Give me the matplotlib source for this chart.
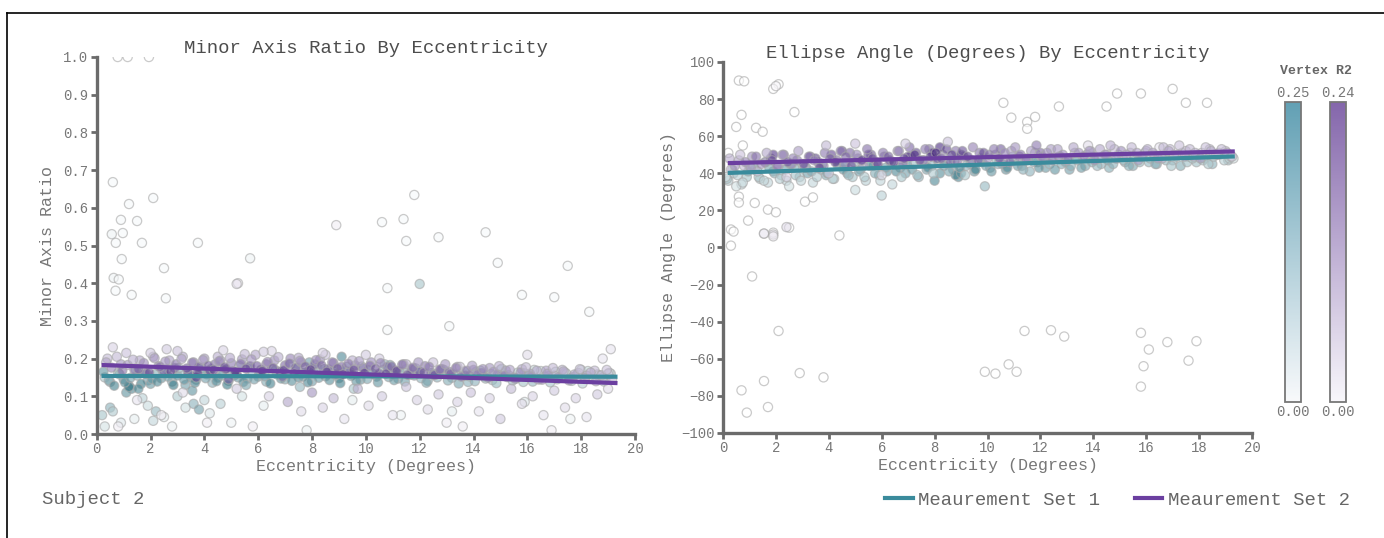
import numpy as np
import matplotlib
matplotlib.use("Agg")
import matplotlib.pyplot as plt
from matplotlib.colors import LinearSegmentedColormap, Normalize
from matplotlib.cm import ScalarMappable
from matplotlib.lines import Line2D

plt.rcParams['font.family'] = ['Liberation Mono', 'DejaVu Sans Mono']

# ---------------- data ----------------
# Left panel: Minor axis ratio, measurement set 1 (teal)
ratio1_x = [0.3, 0.5, 0.8, 1.0, 1.2, 1.3, 1.5, 1.7, 1.9, 2.0,
            2.2, 2.4, 2.6, 2.8, 3.0, 3.1, 3.3, 3.5, 3.7, 3.9,
            4.1, 4.3, 4.5, 4.7, 4.9, 5.1, 5.3, 5.6, 5.8, 6.0,
            6.3, 6.5, 6.7, 7.0, 7.2, 7.5, 7.7, 8.0, 8.2, 8.5,
            8.8, 9.0, 9.3, 9.5, 9.8, 10.1, 10.4, 10.7, 11.0, 11.2,
            11.5, 11.8, 12.0, 12.3, 12.6, 12.9, 13.2, 13.5, 13.8, 14.1,
            14.4, 14.7, 15.0, 15.3, 15.6, 15.9, 16.2, 16.5, 16.8, 17.1,
            17.4, 17.7, 18.0, 18.3, 18.6, 18.9, 19.1, 7.9, 9.1, 10.9,
            0.2, 0.3, 0.5, 0.6, 0.9, 1.1, 1.2, 1.4, 1.7, 1.9,
            2.1, 2.2, 2.5, 2.8, 3.0, 3.3, 3.6, 3.8, 4.0, 4.2,
            4.6, 5.0, 5.4, 6.2, 7.8, 9.5, 11.3, 13.2, 15.9, 17.6,
            0.6, 2.1, 1.2, 0.9, 1.5, 0.56, 0.97, 0.71, 1.68, 3.76,
            0.93, 5.7, 2.5, 0.63, 0.82, 0.7, 1.3, 2.57, 11.8, 10.6,
            11.4, 11.5, 12.7, 14.45, 14.9, 17.5, 10.8, 12.0, 15.8, 17.0,
            18.3, 13.1, 10.8, 0.78, 1.15, 1.94]
ratio1_y = [0.150, 0.138, 0.162, 0.145, 0.128, 0.120, 0.155, 0.170, 0.142, 0.133,
            0.160, 0.148, 0.172, 0.139, 0.155, 0.165, 0.130, 0.150, 0.144, 0.175,
            0.158, 0.136, 0.149, 0.168, 0.141, 0.155, 0.180, 0.147, 0.163, 0.152,
            0.139, 0.171, 0.158, 0.145, 0.185, 0.150, 0.162, 0.140, 0.175, 0.153,
            0.166, 0.148, 0.178, 0.157, 0.144, 0.169, 0.152, 0.185, 0.160, 0.147,
            0.172, 0.155, 0.163, 0.141, 0.158, 0.170, 0.149, 0.160, 0.138, 0.165,
            0.152, 0.143, 0.170, 0.156, 0.148, 0.161, 0.139, 0.167, 0.154, 0.145,
            0.163, 0.151, 0.170, 0.147, 0.158, 0.142, 0.160, 0.190, 0.205, 0.183,
            0.050, 0.020, 0.070, 0.060, 0.030, 0.110, 0.125, 0.040, 0.095, 0.075,
            0.035, 0.060, 0.045, 0.020, 0.100, 0.070, 0.080, 0.065, 0.090, 0.055,
            0.080, 0.030, 0.100, 0.075, 0.010, 0.090, 0.050, 0.060, 0.085, 0.040,
            0.668, 0.626, 0.610, 0.568, 0.565, 0.530, 0.533, 0.507, 0.507, 0.507,
            0.464, 0.466, 0.440, 0.414, 0.410, 0.380, 0.369, 0.360, 0.634, 0.562,
            0.570, 0.512, 0.522, 0.535, 0.454, 0.446, 0.387, 0.398, 0.369, 0.363,
            0.324, 0.286, 0.276, 1.000, 1.000, 1.000]
ratio1_r2 = [0.10, 0.15, 0.12, 0.18, 0.22, 0.20, 0.14, 0.09, 0.16, 0.17,
             0.13, 0.18, 0.08, 0.15, 0.19, 0.12, 0.16, 0.21, 0.14, 0.10,
             0.17, 0.13, 0.20, 0.11, 0.15, 0.18, 0.07, 0.16, 0.12, 0.19,
             0.14, 0.10, 0.17, 0.15, 0.08, 0.20, 0.13, 0.16, 0.11, 0.18,
             0.12, 0.19, 0.09, 0.15, 0.17, 0.13, 0.18, 0.10, 0.14, 0.16,
             0.11, 0.17, 0.13, 0.15, 0.12, 0.09, 0.14, 0.11, 0.13, 0.08,
             0.12, 0.10, 0.07, 0.11, 0.09, 0.10, 0.12, 0.06, 0.09, 0.08,
             0.07, 0.10, 0.06, 0.09, 0.07, 0.08, 0.06, 0.16, 0.20, 0.15,
             0.10, 0.05, 0.13, 0.09, 0.04, 0.18, 0.22, 0.03, 0.08, 0.06,
             0.07, 0.12, 0.03, 0.02, 0.09, 0.05, 0.13, 0.16, 0.07, 0.04,
             0.08, 0.02, 0.05, 0.03, 0.02, 0.03, 0.02, 0.03, 0.04, 0.02,
             0.01, 0.01, 0.01, 0.01, 0.01, 0.02, 0.01, 0.01, 0.01, 0.01,
             0.01, 0.02, 0.01, 0.02, 0.01, 0.01, 0.01, 0.01, 0.01, 0.01,
             0.01, 0.01, 0.01, 0.01, 0.01, 0.01, 0.01, 0.10, 0.01, 0.01,
             0.01, 0.01, 0.01, 0.00, 0.00, 0.00]
# additional dense-band points, set 1
ratio1_core_x = [0.25, 0.45, 0.65, 0.85, 1.05, 1.25, 1.45, 1.65, 1.85, 2.05,
                 2.25, 2.45, 2.65, 2.85, 3.05, 3.25, 3.45, 3.65, 3.85, 4.05,
                 4.25, 4.45, 4.65, 4.85, 5.05, 5.25, 5.45, 5.65, 5.85, 6.05,
                 6.25, 6.45, 6.65, 6.85, 7.05, 7.25, 7.45, 7.65, 7.85, 8.05,
                 8.25, 8.45, 8.65, 8.85, 9.05, 9.25, 9.45, 9.65, 9.85, 10.05,
                 10.25, 10.45, 10.65, 10.85, 11.05, 11.25, 11.45, 11.65, 11.85, 12.05,
                 12.25, 12.45, 12.65, 12.85, 13.05, 13.25, 13.45, 13.65, 13.85, 14.05,
                 14.25, 14.45, 14.65, 14.85, 15.05, 15.25, 15.45, 15.65, 15.85, 16.05,
                 16.25, 16.45, 16.65, 16.85, 17.05, 17.25, 17.45, 17.65, 17.85, 18.05,
                 18.25, 18.45, 18.65, 18.85, 19.05, 1.55, 3.55, 5.55, 7.55, 9.55]
ratio1_core_y = [0.165, 0.142, 0.128, 0.158, 0.137, 0.149, 0.171, 0.133, 0.160, 0.146,
                 0.139, 0.168, 0.152, 0.130, 0.175, 0.144, 0.157, 0.136, 0.163, 0.148,
                 0.172, 0.140, 0.155, 0.131, 0.166, 0.150, 0.138, 0.178, 0.145, 0.161,
                 0.153, 0.134, 0.169, 0.147, 0.159, 0.141, 0.176, 0.152, 0.137, 0.164,
                 0.149, 0.172, 0.143, 0.158, 0.135, 0.167, 0.154, 0.140, 0.179, 0.146,
                 0.160, 0.137, 0.170, 0.151, 0.143, 0.165, 0.139, 0.157, 0.174, 0.148,
                 0.136, 0.162, 0.150, 0.171, 0.142, 0.158, 0.134, 0.166, 0.153, 0.140,
                 0.168, 0.147, 0.159, 0.135, 0.173, 0.151, 0.142, 0.163, 0.138, 0.156,
                 0.170, 0.145, 0.152, 0.137, 0.165, 0.149, 0.160, 0.141, 0.158, 0.134,
                 0.167, 0.146, 0.155, 0.139, 0.162, 0.120, 0.115, 0.130, 0.125, 0.120]
ratio1_core_r2 = [0.18, 0.14, 0.21, 0.12, 0.19, 0.16, 0.10, 0.22, 0.13, 0.17,
                  0.20, 0.11, 0.15, 0.23, 0.09, 0.18, 0.14, 0.21, 0.12, 0.16,
                  0.10, 0.19, 0.15, 0.22, 0.11, 0.17, 0.20, 0.08, 0.16, 0.13,
                  0.15, 0.21, 0.11, 0.18, 0.14, 0.19, 0.09, 0.16, 0.20, 0.12,
                  0.17, 0.10, 0.19, 0.14, 0.21, 0.12, 0.16, 0.18, 0.08, 0.15,
                  0.13, 0.18, 0.10, 0.15, 0.17, 0.12, 0.16, 0.14, 0.09, 0.13,
                  0.15, 0.11, 0.13, 0.08, 0.14, 0.10, 0.15, 0.09, 0.12, 0.13,
                  0.08, 0.11, 0.09, 0.12, 0.07, 0.10, 0.11, 0.08, 0.10, 0.09,
                  0.06, 0.09, 0.08, 0.10, 0.07, 0.08, 0.06, 0.09, 0.07, 0.08,
                  0.06, 0.07, 0.06, 0.08, 0.05, 0.20, 0.18, 0.15, 0.12, 0.10]

# Left panel: Minor axis ratio, measurement set 2 (purple)
ratio2_x = [0.4, 0.6, 0.9, 1.1, 1.4, 1.6, 1.8, 2.1, 2.3, 2.5,
            2.7, 2.9, 3.2, 3.4, 3.6, 3.8, 4.0, 4.2, 4.4, 4.6,
            4.8, 5.0, 5.2, 5.4, 5.7, 5.9, 6.1, 6.3, 6.6, 6.8,
            7.0, 7.2, 7.4, 7.6, 7.9, 8.1, 8.3, 8.6, 8.8, 9.1,
            9.4, 9.6, 9.9, 10.2, 10.5, 10.8, 11.1, 11.4, 11.7, 12.0,
            12.2, 12.5, 12.8, 13.1, 13.4, 13.7, 14.0, 14.3, 14.6, 14.9,
            15.2, 15.5, 15.8, 16.1, 16.4, 16.7, 17.0, 17.3, 17.6, 17.9,
            18.2, 18.5, 18.8, 19.0, 2.0, 3.0, 4.5, 5.5, 6.5, 7.5,
            8.5, 9.5, 10.5, 11.5, 12.5, 13.5, 3.7, 4.9, 6.9, 8.9,
            0.8, 1.5, 2.4, 3.2, 4.1, 5.2, 5.8, 6.4, 7.1, 7.6,
            8.0, 8.4, 8.8, 9.2, 9.7, 10.1, 10.6, 11.0, 11.5, 11.9,
            12.3, 12.7, 13.0, 13.4, 13.9, 14.2, 14.6, 15.0, 15.4, 15.8,
            16.2, 16.6, 17.0, 17.4, 17.8, 18.2, 18.6, 19.0, 13.6, 16.9,
            5.25, 8.9, 5.2, 19.1, 16.0, 18.8]
ratio2_y = [0.200, 0.230, 0.185, 0.215, 0.170, 0.195, 0.160, 0.205, 0.180, 0.165,
            0.195, 0.175, 0.205, 0.160, 0.190, 0.178, 0.200, 0.168, 0.185, 0.195,
            0.172, 0.188, 0.160, 0.198, 0.180, 0.210, 0.170, 0.185, 0.195, 0.165,
            0.182, 0.200, 0.175, 0.190, 0.168, 0.185, 0.198, 0.172, 0.188, 0.178,
            0.165, 0.182, 0.175, 0.190, 0.160, 0.178, 0.168, 0.185, 0.172, 0.165,
            0.180, 0.158, 0.172, 0.165, 0.178, 0.155, 0.170, 0.162, 0.175, 0.158,
            0.168, 0.150, 0.172, 0.160, 0.145, 0.168, 0.155, 0.170, 0.148, 0.162,
            0.155, 0.168, 0.150, 0.160, 0.215, 0.220, 0.205, 0.212, 0.220, 0.202,
            0.210, 0.195, 0.200, 0.185, 0.190, 0.178, 0.150, 0.145, 0.152, 0.158,
            0.020, 0.090, 0.050, 0.110, 0.030, 0.120, 0.020, 0.100, 0.085, 0.060,
            0.110, 0.070, 0.095, 0.040, 0.120, 0.075, 0.100, 0.050, 0.125, 0.090,
            0.065, 0.105, 0.030, 0.085, 0.110, 0.060, 0.095, 0.040, 0.120, 0.080,
            0.100, 0.050, 0.115, 0.070, 0.095, 0.045, 0.105, 0.120, 0.020, 0.010,
            0.400, 0.554, 0.398, 0.225, 0.210, 0.200]
ratio2_r2 = [0.08, 0.05, 0.12, 0.07, 0.15, 0.10, 0.16, 0.09, 0.14, 0.18,
             0.11, 0.17, 0.10, 0.19, 0.14, 0.20, 0.12, 0.21, 0.16, 0.13,
             0.22, 0.15, 0.18, 0.12, 0.20, 0.10, 0.19, 0.16, 0.13, 0.21,
             0.17, 0.14, 0.20, 0.15, 0.22, 0.18, 0.13, 0.19, 0.16, 0.17,
             0.18, 0.15, 0.17, 0.13, 0.19, 0.16, 0.18, 0.14, 0.17, 0.19,
             0.15, 0.18, 0.16, 0.17, 0.13, 0.15, 0.14, 0.16, 0.12, 0.14,
             0.11, 0.13, 0.10, 0.12, 0.09, 0.11, 0.10, 0.09, 0.11, 0.08,
             0.10, 0.08, 0.09, 0.07, 0.06, 0.07, 0.09, 0.08, 0.05, 0.10,
             0.07, 0.09, 0.06, 0.08, 0.07, 0.06, 0.20, 0.18, 0.16, 0.15,
             0.02, 0.03, 0.02, 0.04, 0.02, 0.06, 0.02, 0.05, 0.10, 0.04,
             0.12, 0.05, 0.08, 0.03, 0.09, 0.04, 0.06, 0.03, 0.07, 0.05,
             0.04, 0.06, 0.02, 0.05, 0.07, 0.03, 0.05, 0.06, 0.08, 0.04,
             0.05, 0.03, 0.06, 0.04, 0.05, 0.03, 0.06, 0.04, 0.02, 0.02,
             0.02, 0.02, 0.03, 0.03, 0.04, 0.03]
# additional dense-band points, set 2
ratio2_core_x = [0.35, 0.55, 0.75, 0.95, 1.15, 1.35, 1.55, 1.75, 1.95, 2.15,
                 2.35, 2.55, 2.75, 2.95, 3.15, 3.35, 3.55, 3.75, 3.95, 4.15,
                 4.35, 4.55, 4.75, 4.95, 5.15, 5.35, 5.55, 5.75, 5.95, 6.15,
                 6.35, 6.55, 6.75, 6.95, 7.15, 7.35, 7.55, 7.75, 7.95, 8.15,
                 8.35, 8.55, 8.75, 8.95, 9.15, 9.35, 9.55, 9.75, 9.95, 10.15,
                 10.35, 10.55, 10.75, 10.95, 11.15, 11.35, 11.55, 11.75, 11.95, 12.15,
                 12.35, 12.55, 12.75, 12.95, 13.15, 13.35, 13.55, 13.75, 13.95, 14.15,
                 14.35, 14.55, 14.75, 14.95, 15.15, 15.35, 15.55, 15.75, 15.95, 16.15,
                 16.35, 16.55, 16.75, 16.95, 17.15, 17.35, 17.55, 17.75, 17.95, 18.15,
                 18.35, 18.55, 18.75, 18.95, 19.15, 2.6, 4.7, 6.2, 8.4, 10.0]
ratio2_core_y = [0.190, 0.176, 0.205, 0.168, 0.183, 0.197, 0.172, 0.188, 0.163, 0.201,
                 0.178, 0.192, 0.166, 0.185, 0.199, 0.174, 0.189, 0.162, 0.196, 0.181,
                 0.170, 0.193, 0.177, 0.202, 0.165, 0.186, 0.173, 0.198, 0.180, 0.167,
                 0.191, 0.175, 0.204, 0.169, 0.187, 0.160, 0.194, 0.179, 0.171, 0.196,
                 0.182, 0.165, 0.190, 0.174, 0.158, 0.186, 0.170, 0.193, 0.162, 0.181,
                 0.173, 0.188, 0.160, 0.179, 0.167, 0.184, 0.157, 0.176, 0.190, 0.163,
                 0.178, 0.156, 0.171, 0.185, 0.160, 0.175, 0.152, 0.168, 0.181, 0.158,
                 0.172, 0.149, 0.165, 0.180, 0.155, 0.170, 0.146, 0.163, 0.177, 0.152,
                 0.168, 0.144, 0.160, 0.175, 0.150, 0.166, 0.142, 0.158, 0.172, 0.148,
                 0.163, 0.140, 0.156, 0.170, 0.145, 0.225, 0.222, 0.218, 0.215, 0.210]
ratio2_core_r2 = [0.10, 0.14, 0.08, 0.16, 0.12, 0.09, 0.18, 0.13, 0.20, 0.11,
                  0.17, 0.12, 0.21, 0.15, 0.10, 0.19, 0.14, 0.22, 0.11, 0.18,
                  0.21, 0.13, 0.19, 0.10, 0.23, 0.16, 0.20, 0.12, 0.18, 0.22,
                  0.14, 0.19, 0.09, 0.21, 0.16, 0.23, 0.12, 0.18, 0.20, 0.13,
                  0.17, 0.21, 0.14, 0.19, 0.22, 0.15, 0.20, 0.12, 0.21, 0.16,
                  0.19, 0.14, 0.21, 0.17, 0.20, 0.15, 0.19, 0.16, 0.12, 0.18,
                  0.15, 0.18, 0.16, 0.12, 0.17, 0.14, 0.16, 0.15, 0.11, 0.14,
                  0.13, 0.15, 0.12, 0.09, 0.14, 0.11, 0.13, 0.12, 0.08, 0.12,
                  0.10, 0.12, 0.11, 0.08, 0.11, 0.09, 0.12, 0.10, 0.07, 0.10,
                  0.09, 0.11, 0.08, 0.07, 0.09, 0.06, 0.05, 0.06, 0.05, 0.06]

# Right panel: Ellipse angle, measurement set 1 (teal)
angle1_x = [0.2, 0.4, 0.7, 0.9, 1.2, 1.4, 1.7, 1.9, 2.2, 2.4,
            2.7, 2.9, 3.2, 3.4, 3.7, 3.9, 4.2, 4.4, 4.7, 4.9,
            5.2, 5.4, 5.7, 5.9, 6.2, 6.4, 6.7, 6.9, 7.2, 7.4,
            7.7, 7.9, 8.2, 8.4, 8.7, 8.9, 9.2, 9.5, 9.8, 10.1,
            10.4, 10.7, 11.0, 11.3, 11.6, 11.9, 12.2, 12.5, 12.8, 13.1,
            13.4, 13.7, 14.0, 14.3, 14.6, 14.9, 15.2, 15.5, 15.8, 16.1,
            16.4, 16.7, 17.0, 17.3, 17.6, 17.9, 18.2, 18.5, 18.8, 19.1,
            0.5, 1.0, 1.6, 2.5, 3.0, 5.0, 6.0, 8.0, 8.8, 9.0,
            0.6, 0.8, 2.1, 1.9, 0.7, 0.5, 1.25, 1.5, 2.7, 0.2,
            0.75, 0.6, 0.6, 1.2, 1.7, 0.95, 2.0, 0.3, 0.4, 1.55,
            1.9, 2.5, 3.1, 3.4, 1.1, 4.4, 2.1, 2.9, 3.8, 0.7,
            1.7, 0.9, 1.55, 9.9, 11.4, 12.4, 12.9, 10.8, 11.1, 10.3,
            15.8, 16.1, 15.9, 15.8, 16.8, 17.9, 17.6, 10.6, 10.9, 11.5,
            11.5, 11.8, 12.7, 14.5, 14.9, 15.8, 17.0, 17.5, 18.3, 0.3]
angle1_y = [36, 40, 34, 38, 42, 37, 35, 41, 39, 36,
            43, 38, 40, 35, 42, 39, 37, 44, 40, 38,
            42, 36, 44, 39, 41, 34, 43, 40, 45, 38,
            42, 44, 40, 46, 42, 38, 44, 41, 46, 43,
            45, 42, 47, 44, 41, 46, 43, 48, 45, 42,
            47, 44, 49, 45, 43, 48, 46, 44, 49, 46,
            45, 50, 47, 44, 49, 46, 48, 45, 50, 47,
            33, 44, 46, 33, 45, 31, 28, 36, 39, 40,
            90, 89.6, 88, 85.5, 71.5, 65, 64.5, 62.4, 73, 51,
            55, 27.4, 24.2, 24, 20.4, 14.5, 19, 9.7, 8.6, 7.5,
            8, 10.7, 24.7, 27, -15.6, 6.5, -45, -67.7, -70, -77,
            -86, -89, -72, -67, -45, -44.6, -48, -63, -67, -68,
            -46, -55, -64, -75, -51, -50.5, -61, 78, 70, 67.7,
            64, 70.4, 76, 76, 83, 83, 85.5, 78, 78, 1]
angle1_r2 = [0.08, 0.12, 0.06, 0.10, 0.14, 0.09, 0.07, 0.15, 0.11, 0.08,
             0.13, 0.10, 0.16, 0.07, 0.12, 0.14, 0.09, 0.11, 0.17, 0.10,
             0.13, 0.08, 0.15, 0.12, 0.18, 0.07, 0.14, 0.16, 0.11, 0.13,
             0.15, 0.12, 0.19, 0.10, 0.16, 0.20, 0.13, 0.17, 0.11, 0.15,
             0.14, 0.18, 0.12, 0.16, 0.13, 0.15, 0.17, 0.11, 0.14, 0.16,
             0.12, 0.15, 0.10, 0.13, 0.14, 0.11, 0.13, 0.15, 0.10, 0.12,
             0.13, 0.09, 0.12, 0.14, 0.10, 0.11, 0.12, 0.13, 0.09, 0.11,
             0.05, 0.06, 0.04, 0.05, 0.07, 0.06, 0.08, 0.20, 0.22, 0.18,
             0.00, 0.00, 0.00, 0.00, 0.00, 0.00, 0.00, 0.00, 0.00, 0.00,
             0.00, 0.00, 0.00, 0.00, 0.00, 0.00, 0.00, 0.00, 0.00, 0.00,
             0.00, 0.00, 0.00, 0.00, 0.00, 0.00, 0.00, 0.00, 0.00, 0.00,
             0.00, 0.00, 0.00, 0.00, 0.00, 0.00, 0.00, 0.00, 0.00, 0.00,
             0.00, 0.00, 0.00, 0.00, 0.00, 0.00, 0.00, 0.00, 0.00, 0.00,
             0.00, 0.00, 0.00, 0.00, 0.00, 0.00, 0.00, 0.00, 0.00, 0.00]
angle1_core_x = [0.15, 0.35, 0.55, 0.75, 0.95, 1.15, 1.35, 1.55, 1.75, 1.95,
                 2.15, 2.35, 2.55, 2.75, 2.95, 3.15, 3.35, 3.55, 3.75, 3.95,
                 4.15, 4.35, 4.55, 4.75, 4.95, 5.15, 5.35, 5.55, 5.75, 5.95,
                 6.15, 6.35, 6.55, 6.75, 6.95, 7.15, 7.35, 7.55, 7.75, 7.95,
                 8.15, 8.35, 8.55, 8.75, 8.95, 9.15, 9.35, 9.55, 9.75, 9.95,
                 10.15, 10.35, 10.55, 10.75, 10.95, 11.15, 11.35, 11.55, 11.75, 11.95,
                 12.15, 12.35, 12.55, 12.75, 12.95, 13.15, 13.35, 13.55, 13.75, 13.95,
                 14.15, 14.35, 14.55, 14.75, 14.95, 15.15, 15.35, 15.55, 15.75, 15.95,
                 16.15, 16.35, 16.55, 16.75, 16.95, 17.15, 17.35, 17.55, 17.75, 17.95,
                 18.15, 18.35, 18.55, 18.75, 18.95, 19.15, 0.1, 19.3, 9.9, 4.6]
angle1_core_y = [37, 42, 39, 35, 41, 44, 38, 36, 43, 40,
                 37, 42, 45, 39, 36, 43, 41, 38, 45, 40,
                 37, 44, 42, 39, 46, 41, 38, 44, 40, 36,
                 43, 46, 41, 38, 45, 42, 39, 47, 43, 40,
                 46, 44, 41, 47, 43, 39, 45, 42, 48, 44,
                 41, 47, 45, 43, 49, 44, 42, 48, 46, 43,
                 47, 45, 42, 49, 46, 44, 48, 43, 50, 46,
                 44, 49, 47, 45, 50, 47, 44, 49, 46, 51,
                 48, 45, 50, 47, 44, 49, 51, 46, 48, 50,
                 47, 45, 49, 51, 47, 48, 38, 48, 33, 44]
angle1_core_r2 = [0.10, 0.13, 0.08, 0.06, 0.14, 0.11, 0.09, 0.07, 0.15, 0.12,
                  0.08, 0.16, 0.13, 0.10, 0.07, 0.17, 0.14, 0.09, 0.12, 0.16,
                  0.08, 0.13, 0.18, 0.11, 0.10, 0.15, 0.09, 0.19, 0.14, 0.07,
                  0.16, 0.12, 0.20, 0.10, 0.14, 0.18, 0.11, 0.13, 0.21, 0.09,
                  0.12, 0.17, 0.15, 0.11, 0.19, 0.10, 0.14, 0.22, 0.12, 0.16,
                  0.18, 0.11, 0.15, 0.20, 0.10, 0.17, 0.13, 0.12, 0.16, 0.19,
                  0.14, 0.11, 0.18, 0.09, 0.15, 0.13, 0.12, 0.17, 0.08, 0.14,
                  0.12, 0.10, 0.15, 0.13, 0.09, 0.11, 0.14, 0.10, 0.12, 0.08,
                  0.11, 0.13, 0.09, 0.12, 0.10, 0.08, 0.07, 0.11, 0.09, 0.08,
                  0.10, 0.09, 0.07, 0.06, 0.08, 0.07, 0.04, 0.05, 0.12, 0.20]

# Right panel: Ellipse angle, measurement set 2 (purple)
angle2_x = [0.3, 0.6, 0.8, 1.1, 1.3, 1.6, 1.8, 2.1, 2.3, 2.6,
            2.8, 3.1, 3.3, 3.6, 3.8, 4.1, 4.3, 4.6, 4.8, 5.1,
            5.3, 5.6, 5.8, 6.1, 6.3, 6.6, 6.8, 7.1, 7.3, 7.6,
            7.8, 8.1, 8.3, 8.6, 8.8, 9.1, 9.4, 9.7, 10.0, 10.3,
            10.6, 10.9, 11.2, 11.5, 11.8, 12.1, 12.4, 12.7, 13.0, 13.3,
            13.6, 13.9, 14.2, 14.5, 14.8, 15.1, 15.4, 15.7, 16.0, 16.3,
            16.6, 16.9, 17.2, 17.5, 17.8, 18.1, 18.4, 18.7, 19.0, 19.2,
            1.9, 3.5, 4.5, 5.5, 7.0, 7.9, 8.2, 9.0, 10.5, 12.0,
            2.4, 4.0, 6.0, 13.8, 16.5, 1.55, 1.9, 2.4, 1.9, 2.0]
angle2_y = [42, 47, 44, 49, 41, 46, 48, 44, 50, 45,
            47, 43, 49, 46, 44, 50, 47, 45, 51, 48,
            44, 50, 46, 49, 47, 52, 45, 49, 51, 47,
            53, 48, 50, 46, 52, 49, 47, 51, 48, 50,
            46, 52, 49, 47, 51, 48, 53, 49, 47, 51,
            49, 52, 48, 50, 53, 49, 51, 47, 52, 50,
            48, 53, 50, 52, 49, 51, 53, 50, 52, 49,
            50, 48, 52, 50, 49, 51, 54, 50, 53, 51,
            38, 40, 39, 55, 54, 7.5, 7, 11, 6, 87]
angle2_r2 = [0.06, 0.10, 0.08, 0.12, 0.07, 0.14, 0.16, 0.11, 0.18, 0.13,
             0.15, 0.09, 0.19, 0.12, 0.14, 0.20, 0.16, 0.11, 0.17, 0.15,
             0.10, 0.18, 0.13, 0.16, 0.19, 0.12, 0.15, 0.17, 0.20, 0.14,
             0.16, 0.21, 0.13, 0.18, 0.15, 0.17, 0.14, 0.16, 0.12, 0.15,
             0.13, 0.11, 0.14, 0.12, 0.10, 0.13, 0.11, 0.12, 0.10, 0.11,
             0.09, 0.12, 0.10, 0.11, 0.08, 0.10, 0.09, 0.11, 0.08, 0.10,
             0.09, 0.07, 0.10, 0.08, 0.09, 0.07, 0.08, 0.09, 0.07, 0.06,
             0.22, 0.21, 0.23, 0.20, 0.22, 0.24, 0.23, 0.21, 0.18, 0.17,
             0.05, 0.05, 0.04, 0.04, 0.03, 0.03, 0.03, 0.04, 0.02, 0.01]
angle2_core_x = [0.25, 0.45, 0.65, 0.85, 1.05, 1.25, 1.45, 1.65, 1.85, 2.05,
                 2.25, 2.45, 2.65, 2.85, 3.05, 3.25, 3.45, 3.65, 3.85, 4.05,
                 4.25, 4.45, 4.65, 4.85, 5.05, 5.25, 5.45, 5.65, 5.85, 6.05,
                 6.25, 6.45, 6.65, 6.85, 7.05, 7.25, 7.45, 7.65, 7.85, 8.05,
                 8.25, 8.45, 8.65, 8.85, 9.05, 9.25, 9.45, 9.65, 9.85, 10.05,
                 10.25, 10.45, 10.65, 10.85, 11.05, 11.25, 11.45, 11.65, 11.85, 12.05,
                 12.25, 12.45, 12.65, 12.85, 13.05, 13.25, 13.45, 13.65, 13.85, 14.05,
                 14.25, 14.45, 14.65, 14.85, 15.05, 15.25, 15.45, 15.65, 15.85, 16.05,
                 16.25, 16.45, 16.65, 16.85, 17.05, 17.25, 17.45, 17.65, 17.85, 18.05,
                 18.25, 18.45, 18.65, 18.85, 19.05, 19.25, 3.9, 5.0, 6.9, 8.5]
angle2_core_y = [48, 44, 50, 46, 43, 49, 45, 51, 47, 44,
                 50, 46, 48, 52, 45, 49, 47, 43, 51, 48,
                 46, 52, 49, 44, 50, 47, 53, 48, 45, 51,
                 49, 46, 52, 48, 54, 50, 47, 53, 49, 51,
                 48, 53, 50, 46, 52, 49, 54, 47, 51, 50,
                 53, 48, 51, 46, 54, 50, 48, 52, 55, 49,
                 51, 47, 53, 50, 48, 54, 51, 49, 52, 47,
                 53, 50, 55, 48, 52, 50, 54, 51, 49, 53,
                 51, 48, 54, 52, 50, 55, 49, 53, 51, 48,
                 54, 52, 50, 53, 51, 49, 55, 56, 56, 57]
angle2_core_r2 = [0.09, 0.12, 0.07, 0.14, 0.11, 0.16, 0.13, 0.10, 0.18, 0.15,
                  0.12, 0.19, 0.14, 0.11, 0.20, 0.16, 0.13, 0.21, 0.15, 0.18,
                  0.22, 0.14, 0.17, 0.20, 0.13, 0.23, 0.16, 0.19, 0.21, 0.15,
                  0.18, 0.22, 0.14, 0.20, 0.17, 0.23, 0.19, 0.15, 0.21, 0.24,
                  0.17, 0.20, 0.22, 0.16, 0.19, 0.21, 0.14, 0.18, 0.20, 0.16,
                  0.15, 0.18, 0.13, 0.17, 0.12, 0.16, 0.14, 0.11, 0.15, 0.13,
                  0.12, 0.14, 0.11, 0.13, 0.15, 0.10, 0.12, 0.14, 0.11, 0.13,
                  0.10, 0.12, 0.09, 0.11, 0.13, 0.10, 0.08, 0.11, 0.12, 0.09,
                  0.10, 0.11, 0.08, 0.10, 0.09, 0.07, 0.10, 0.08, 0.09, 0.11,
                  0.07, 0.09, 0.08, 0.07, 0.09, 0.06, 0.08, 0.07, 0.06, 0.07]

# Regression lines (endpoints)
fit_x = [0.18, 19.35]
ratio_fit1 = [0.154, 0.152]
ratio_fit2 = [0.183, 0.135]
angle_fit1 = [40.2, 49.1]
angle_fit2 = [45.5, 51.8]

r2_max = [0.25, 0.24]
series_labels = ["Meaurement Set 1", "Meaurement Set 2"]

# ---------------- styling ----------------
W, H = 1384, 538
fig = plt.figure(figsize=(W / 100, H / 100), dpi=100)
fig.patch.set_facecolor('white')

GREY = '#6b6b6b'
TEAL_LINE = '#3a8b9c'
PURP_LINE = '#6b3fa0'
pt_cmap1 = LinearSegmentedColormap.from_list('t', ['#ffffff', '#1f6878'])
pt_cmap2 = LinearSegmentedColormap.from_list('p', ['#ffffff', '#43237c'])
cb_cmap1 = LinearSegmentedColormap.from_list('tc', ['#f8f9fb', '#62a0b4'])
cb_cmap2 = LinearSegmentedColormap.from_list('pc', ['#f8f7fb', '#8466ab'])


def px_axes(x0, x1, y0, y1):
    return fig.add_axes([x0 / W, 1 - y1 / H, (x1 - x0) / W, (y1 - y0) / H])


def style(ax):
    for s in ['top', 'right']:
        ax.spines[s].set_visible(False)
    for s in ['left', 'bottom']:
        ax.spines[s].set_color(GREY)
        ax.spines[s].set_linewidth(2.4)
    ax.tick_params(direction='out', length=4, width=2, color=GREY,
                   labelcolor='#777777', labelsize=10, pad=2)


def scatter(ax, x, y, r2, cmap, vmax):
    ax.scatter(x, y, c=r2, cmap=cmap, vmin=0, vmax=vmax, s=44,
               edgecolors='#a8a8a8', linewidths=0.9, alpha=0.6, zorder=2)


ax1 = px_axes(96.7, 635, 57, 434)
ax2 = px_axes(723, 1252, 62, 433)

scatter(ax1, ratio1_x, ratio1_y, ratio1_r2, pt_cmap1, r2_max[0])
scatter(ax1, ratio1_core_x, ratio1_core_y, ratio1_core_r2, pt_cmap1, r2_max[0])
scatter(ax1, ratio2_x, ratio2_y, ratio2_r2, pt_cmap2, r2_max[1])
scatter(ax1, ratio2_core_x, ratio2_core_y, ratio2_core_r2, pt_cmap2, r2_max[1])
ax1.plot(fit_x, ratio_fit1, color=TEAL_LINE, lw=3, zorder=4, solid_capstyle='butt')
ax1.plot(fit_x, ratio_fit2, color=PURP_LINE, lw=3, zorder=4, solid_capstyle='butt')
ax1.set_xlim(0, 20)
ax1.set_ylim(0, 1.0)
ax1.set_xticks(np.arange(0, 21, 2))
ax1.set_yticks(np.arange(0, 1.01, 0.1))
ax1.set_yticklabels([f"{v:.1f}" for v in np.arange(0, 1.01, 0.1)])
style(ax1)
ax1.set_xlabel("Eccentricity (Degrees)", fontsize=12, color='#777777', labelpad=2)
ax1.set_ylabel("Minor Axis Ratio", fontsize=12, color='#777777', labelpad=6)
ax1.set_title("Minor Axis Ratio By Eccentricity", fontsize=13.6, color='#4d4d4d',
              fontweight='normal', pad=-3)

scatter(ax2, angle1_x, angle1_y, angle1_r2, pt_cmap1, r2_max[0])
scatter(ax2, angle1_core_x, angle1_core_y, angle1_core_r2, pt_cmap1, r2_max[0])
scatter(ax2, angle2_x, angle2_y, angle2_r2, pt_cmap2, r2_max[1])
scatter(ax2, angle2_core_x, angle2_core_y, angle2_core_r2, pt_cmap2, r2_max[1])
ax2.plot(fit_x, angle_fit1, color=TEAL_LINE, lw=3, zorder=4, solid_capstyle='butt')
ax2.plot(fit_x, angle_fit2, color=PURP_LINE, lw=3, zorder=4, solid_capstyle='butt')
ax2.set_xlim(0, 20)
ax2.set_ylim(-100, 100)
ax2.set_xticks(np.arange(0, 21, 2))
ax2.set_yticks(np.arange(-100, 101, 20))
style(ax2)
ax2.set_xlabel("Eccentricity (Degrees)", fontsize=12, color='#777777', labelpad=2)
ax2.set_ylabel("Ellipse Angle (Degrees)", fontsize=12, color='#777777', labelpad=4)
ax2.set_title("Ellipse Angle (Degrees) By Eccentricity", fontsize=13.6, color='#4d4d4d',
              fontweight='normal', pad=-1)

# colorbars
for cx, cmap, vmax in [(1285, cb_cmap1, r2_max[0]), (1330, cb_cmap2, r2_max[1])]:
    cax = px_axes(cx, cx + 15.5, 101.5, 402)
    cb = fig.colorbar(ScalarMappable(norm=Normalize(0, vmax), cmap=cmap), cax=cax)
    cb.set_ticks([])
    cb.outline.set_edgecolor('#777777')
    cb.outline.set_linewidth(1.3)
    fig.text((cx + 7.75) / W, 1 - 93 / H, f"{vmax:.2f}", ha='center', va='center',
             fontsize=10, color='#777777')
    fig.text((cx + 7.75) / W, 1 - 412 / H, "0.00", ha='center', va='center',
             fontsize=10, color='#777777')
fig.text(1316 / W, 1 - 71 / H, "Vertex R2", ha='center', va='center', fontsize=9.5,
         fontweight='bold', color='#666666')

# legend & subject label
handles = [Line2D([], [], color=TEAL_LINE, lw=3), Line2D([], [], color=PURP_LINE, lw=3)]
fig.legend(handles, series_labels, loc='center left', bbox_to_anchor=(876 / W, 1 - 500 / H),
           ncol=2, frameon=False, fontsize=13.6, handlelength=1.45, handletextpad=0.3,
           columnspacing=1.8, borderpad=0, labelcolor='#666666')
fig.text(42 / W, 1 - 500 / H, "Subject 2", ha='left', va='center', fontsize=13.6,
         color='#666666')

# frame lines at top and left
fig.add_artist(Line2D([7 / W, 1], [1 - 13 / H, 1 - 13 / H], color='black', lw=1.2))
fig.add_artist(Line2D([7 / W, 7 / W], [0, 1 - 13 / H], color='black', lw=1.2))

fig.savefig("out.png", dpi=100, facecolor='white')
